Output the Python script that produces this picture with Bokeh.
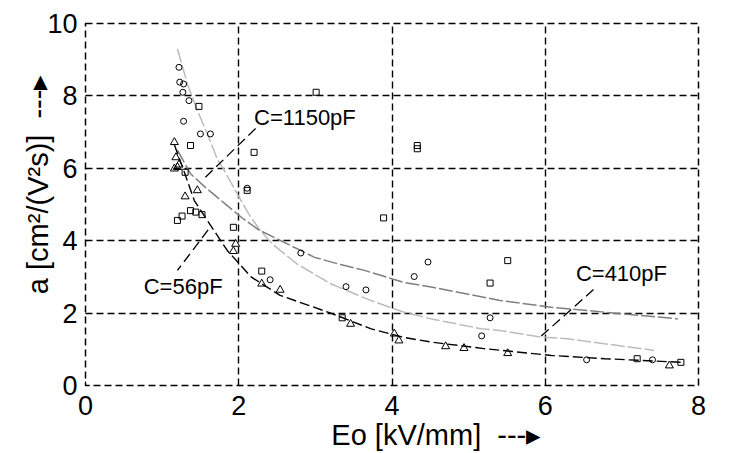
import numpy as np
from bokeh.plotting import figure
from bokeh.models import Label, FixedTicker
from bokeh.embed import file_html
from bokeh.resources import INLINE

# ---------------- data ----------------
x_ticks = [0, 2, 4, 6, 8]
y_ticks = [0, 2, 4, 6, 8, 10]

# C=410pF (circles) measured points
circ_x = [1.22, 1.23, 1.28, 1.27, 1.35, 1.28, 1.50, 1.63, 2.11, 2.41, 2.81, 3.40, 3.66,
          4.29, 4.47, 5.28, 5.17, 6.54, 7.40]
circ_y = [8.79, 8.38, 8.33, 8.10, 7.87, 7.30, 6.95, 6.95, 5.45, 2.92, 3.66, 2.73, 2.64,
          3.01, 3.41, 1.87, 1.37, 0.71, 0.71]

# C=1150pF (squares) measured points
sq_x = [1.48, 1.37, 1.30, 1.20, 1.26, 1.37, 1.44, 1.52, 1.93, 2.11, 2.20, 2.30, 3.35,
        3.01, 4.33, 4.33, 3.89, 5.51, 5.28, 7.20, 7.77]
sq_y = [7.71, 6.63, 5.89, 4.56, 4.68, 4.83, 4.79, 4.72, 4.37, 5.39, 6.44, 3.16, 1.87,
        8.10, 6.54, 6.63, 4.63, 3.45, 2.83, 0.74, 0.64]

# C=56pF (triangles) measured points
tri_x = [1.16, 1.18, 1.16, 1.20, 1.22, 1.30, 1.46, 1.96, 1.93, 2.30, 2.54, 3.46, 4.03,
         4.09, 4.70, 4.94, 5.51, 7.62]
tri_y = [6.72, 6.30, 5.99, 6.03, 6.10, 5.22, 5.39, 3.91, 3.71, 2.81, 2.64, 1.70, 1.43,
         1.24, 1.08, 1.03, 0.89, 0.55]

# fitted curves
fit410_x = [1.20, 1.33, 1.46, 1.59, 1.72, 1.81, 2.03, 2.13, 2.28, 2.46, 2.76, 3.20, 3.72,
            4.15, 4.51, 5.16, 5.41, 5.94, 6.29, 7.42]
fit410_y = [9.30, 8.33, 7.60, 6.95, 6.25, 5.94, 5.11, 4.74, 4.28, 3.87, 3.36, 2.81, 2.35,
            2.03, 1.84, 1.57, 1.52, 1.34, 1.29, 0.97]

fit1150_x = [1.20, 1.37, 1.55, 1.85, 2.05, 2.26, 2.99, 3.33, 3.64, 4.15, 4.51, 5.41,
             6.08, 6.29, 7.73]
fit1150_y = [6.50, 5.85, 5.50, 4.97, 4.62, 4.30, 3.54, 3.34, 3.18, 2.85, 2.72, 2.35,
             2.16, 2.12, 1.84]

fit56_x = [1.16, 1.28, 1.42, 1.59, 1.85, 2.03, 2.16, 2.54, 3.20, 3.72, 4.15, 4.51,
           5.20, 6.08, 6.78, 7.78]
fit56_y = [6.65, 5.95, 5.11, 4.56, 3.73, 3.31, 3.00, 2.49, 2.00, 1.57, 1.33, 1.20,
           1.02, 0.83, 0.74, 0.64]

x_title = "Eo [kV/mm]"
y_title = "a [cm²/(V²s)]"
arrow_txt = "\u00a0\u00a0---\u25b8"

FONT = "Liberation Sans"

p = figure(width=737, height=453, x_range=(0, 8), y_range=(0, 10),
           output_backend="svg", toolbar_location=None,
           min_border_left=85, min_border_right=39, min_border_top=23,
           min_border_bottom=0)
p.background_fill_color = "white"
p.border_fill_color = "white"
p.outline_line_color = "black"
p.outline_line_dash = "7 4"
p.outline_line_width = 1.5

p.xaxis.ticker = FixedTicker(ticks=x_ticks)
p.yaxis.ticker = FixedTicker(ticks=y_ticks)
p.xgrid.ticker = FixedTicker(ticks=x_ticks)
p.ygrid.ticker = FixedTicker(ticks=y_ticks)
for g in (p.xgrid, p.ygrid):
    g.grid_line_color = "black"
    g.grid_line_dash = "7 4"
    g.grid_line_width = 1.4
    g.grid_line_alpha = 1.0

for ax in (p.xaxis, p.yaxis):
    ax.axis_line_color = None
    ax.major_tick_in = 4
    ax.major_tick_out = 0
    ax.major_tick_line_color = "black"
    ax.minor_tick_line_color = None
    ax.major_label_text_font = FONT
    ax.major_label_text_font_size = "27px"
    ax.major_label_text_color = "black"
    ax.axis_label_text_font = FONT
    ax.axis_label_text_font_size = "29px"
    ax.axis_label_text_font_style = "normal"
    ax.axis_label_text_color = "black"

p.xaxis.major_label_standoff = 10
p.yaxis.major_label_standoff = 8
p.xaxis.axis_label = "\u00a0" * 11 + x_title + arrow_txt
p.yaxis.axis_label = "\u00a0" * 5 + y_title + arrow_txt
p.xaxis.axis_label_standoff = 1
p.yaxis.axis_label_standoff = -10

# fitted curves
p.line(fit410_x, fit410_y, line_color="#bcbcbc", line_width=1.5, line_dash="14 3")
p.line(fit1150_x, fit1150_y, line_color="#7f7f7f", line_width=1.5, line_dash="14 3")
p.line(fit56_x, fit56_y, line_color="black", line_width=1.4, line_dash="10 4")

# measured points
p.scatter(circ_x, circ_y, marker="circle", size=6, fill_color=None,
          line_color="black", line_width=1)
p.scatter(sq_x, sq_y, marker="square", size=6, fill_color=None,
          line_color="black", line_width=1)
p.scatter(tri_x, tri_y, marker="triangle", size=8, fill_color=None,
          line_color="black", line_width=1)

# pointer lines
p.line([2.22, 1.52], [7.10, 5.66], line_color="black", line_width=1.3, line_dash="10 5")
p.line([1.60, 1.20], [4.30, 3.18], line_color="black", line_width=1.3, line_dash="10 5")
p.line([6.63, 5.94], [2.65, 1.35], line_color="black", line_width=1.3, line_dash="10 5")

for txt, lx, ly in (("C=1150pF", 2.20, 7.40), ("C=56pF", 0.76, 2.73), ("C=410pF", 6.40, 3.10)):
    p.add_layout(Label(x=lx, y=ly, text=txt, text_font=FONT, text_font_size="22px",
                       text_align="left", text_baseline="middle", text_color="black"))

open("out.html", "w").write(file_html(p, INLINE))
